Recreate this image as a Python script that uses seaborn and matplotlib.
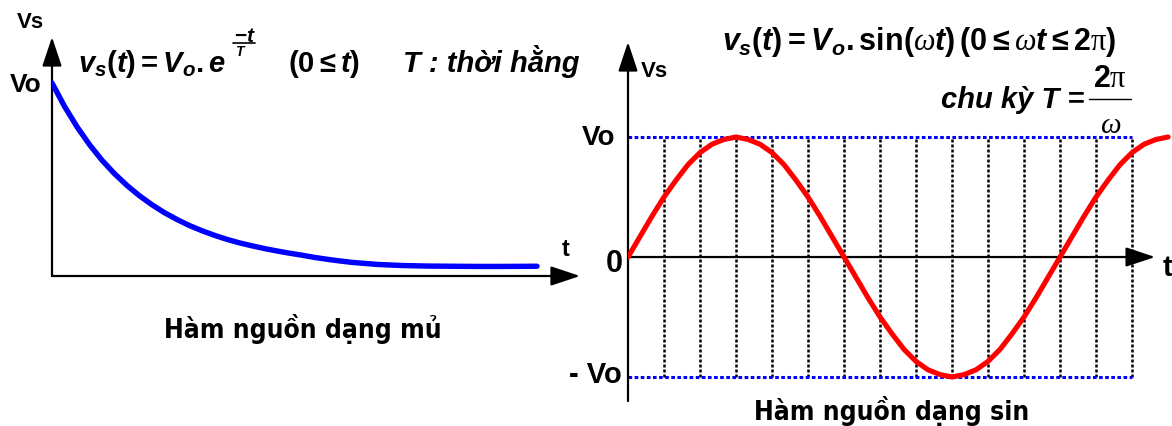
import matplotlib
matplotlib.use("Agg")
import matplotlib.pyplot as plt
from matplotlib.lines import Line2D
import seaborn as sns

# Exponential source: time (arbitrary units) and voltage normalised to Vo
decay_t = [0.0, 0.25, 0.5, 0.75, 1.0, 1.25, 1.5, 1.75, 2.0, 2.25, 2.5,
           2.75, 3.0, 3.25, 3.5, 3.75, 4.0, 4.25, 4.5, 4.75, 5.0, 5.25,
           5.5, 5.75, 6.0, 6.5, 7.0, 7.5, 8.0, 8.5, 9.0, 9.7]
decay_v = [1.00, 0.873, 0.762, 0.665, 0.58, 0.507, 0.443, 0.387, 0.338,
           0.295, 0.258, 0.225, 0.197, 0.172, 0.15, 0.131, 0.115, 0.10,
           0.087, 0.075, 0.064, 0.052, 0.042, 0.033, 0.025, 0.014, 0.008,
           0.005, 0.004, 0.003, 0.003, 0.004]

# Sinusoidal source: phase (degrees) and voltage normalised to Vo
phase_deg = [0, 10, 20, 30, 40, 50, 60, 70, 80, 90, 100, 110, 120, 130,
             140, 150, 160, 170, 180, 190, 200, 210, 220, 230, 240, 250,
             260, 270, 280, 290, 300, 310, 320, 330, 340, 350, 360, 370,
             380, 390, 400, 410, 420, 430, 440, 450]
sine_v = [0.00, 0.17, 0.34, 0.50, 0.64, 0.77, 0.87, 0.94, 0.98, 1.00,
          0.98, 0.94, 0.87, 0.77, 0.64, 0.50, 0.34, 0.17, 0.00, -0.17,
          -0.34, -0.50, -0.64, -0.77, -0.87, -0.94, -0.98, -1.00, -0.98,
          -0.94, -0.87, -0.77, -0.64, -0.50, -0.34, -0.17, 0.00, 0.17,
          0.34, 0.50, 0.64, 0.77, 0.87, 0.94, 0.98, 1.00]

# Phase grid (degrees)
grid_phase = [30, 60, 90, 120, 150, 180, 210, 240, 270, 300, 330, 360, 390, 420]

sns.set_style("white")
plt.rcParams["font.family"] = ["Liberation Sans", "DejaVu Sans"]
plt.rcParams["mathtext.fontset"] = "custom"
plt.rcParams["mathtext.it"] = "Liberation Sans:bold:italic"
plt.rcParams["mathtext.rm"] = "Liberation Sans:bold"
plt.rcParams["mathtext.bf"] = "Liberation Sans:bold"
plt.rcParams["mathtext.sf"] = "Liberation Serif:italic"
plt.rcParams["mathtext.tt"] = "Liberation Serif"
plt.rcParams["mathtext.fallback"] = "stixsans"

W, H = 1172, 427
fig = plt.figure(figsize=(W / 100, H / 100), dpi=100)
fig.patch.set_facecolor("white")


def fx(x):
    return x / W


def fy(y):
    return 1 - y / H


def ftext(x, y, s, size, ha="left", va="baseline", **kw):
    kw.setdefault("weight", "bold")
    fig.text(fx(x), fy(y), s, fontsize=size, ha=ha, va=va, color="black", **kw)


def frac_bar(x0, x1, y, lw=1.0):
    fig.add_artist(Line2D([fx(x0), fx(x1)], [fy(y), fy(y)],
                          color="black", linewidth=lw))


ARROW = dict(arrowstyle="-|>,head_length=0.9,head_width=0.3", mutation_scale=20,
             lw=1.6, color="black", shrinkA=0, shrinkB=0)
TITLE = dict(family="DejaVu Sans", stretch="condensed")

# ---------------- exponential panel ----------------
ax1 = fig.add_axes([fx(52), fy(277), fx(580) - fx(52), fy(38) - fy(277)])
x1max, y1min, y1max = 10.56, -0.049, 1.25
ax1.set_xlim(0, x1max)
ax1.set_ylim(y1min, y1max)
ax1.axis("off")
ax1.annotate("", xy=(0, y1max), xytext=(0, y1min), arrowprops=ARROW,
             annotation_clip=False)
ax1.annotate("", xy=(x1max, y1min), xytext=(0, y1min), arrowprops=ARROW,
             annotation_clip=False)
sns.lineplot(x=decay_t, y=decay_v, ax=ax1, color="#0000FF", linewidth=3.9,
             solid_capstyle="round", solid_joinstyle="round", zorder=3)

ftext(17, 28, "Vs", 16)
ftext(10, 92, "Vo", 19)
ftext(562, 256, "t", 17)

ftext(78, 72, r"$v_s(t) = V_o.e$", 21)
ftext(245, 42, r"$-t$", 15, ha="center")
frac_bar(233, 255, 44, lw=1.2)
ftext(241, 56, r"$T$", 10, ha="center")
ftext(288, 72, r"$(0 \leq t)$", 21)
ftext(403, 72, "T : thời hằng", 21, style="italic")
ftext(303, 338, "Hàm nguồn dạng mủ", 19, ha="center", **TITLE)

# ---------------- sinusoidal panel ----------------
ax2 = fig.add_axes([fx(628), fy(402), fx(1172) - fx(628), fy(43) - fy(402)])
x2max, y2min, y2max = 453.3, -1.2, 1.792
ax2.set_xlim(0, x2max)
ax2.set_ylim(y2min, y2max)
ax2.axis("off")

amp = max(sine_v)
ax2.vlines(grid_phase, -amp, amp, colors="black", linestyles=(0, (1.2, 0.8)),
           linewidth=1.8, zorder=1)
ax2.hlines([amp, -amp], 0, grid_phase[-1], colors="#0000FF",
           linestyles=(0, (1.2, 0.8)), linewidth=2.2, zorder=1)
ax2.annotate("", xy=(0, y2max), xytext=(0, y2min), arrowprops=ARROW,
             annotation_clip=False)
ax2.annotate("", xy=(439.2, 0), xytext=(0, 0), arrowprops=ARROW,
             annotation_clip=False)
sns.lineplot(x=phase_deg, y=sine_v, ax=ax2, color="#FF0000", linewidth=3.7,
             solid_capstyle="round", solid_joinstyle="round", zorder=3)

ftext(641, 77, "Vs", 16)
ftext(615, 145, "Vo", 20, ha="right")
ftext(623, 272, "0", 22, ha="right")
ftext(622, 383, "- Vo", 21, ha="right")
ftext(1163, 276, "t", 21)

ftext(722, 50, r"$v_s(t) = V_o.\mathrm{sin}(\mathsf{\omega} t)\,"
               r"(0 \leq \mathsf{\omega} t \leq 2\mathtt{\pi})$", 22)
ftext(1084, 108, "chu kỳ T =", 21, ha="right", style="italic")
ftext(1110, 79, r"$2\mathtt{\pi}$", 22, ha="center", va="center")
frac_bar(1089, 1131, 100)
ftext(1111, 125, r"$\mathsf{\omega}$", 21, ha="center", va="center")
ftext(892, 420, "Hàm nguồn dạng sin", 19, ha="center", **TITLE)

fig.savefig("out.png", dpi=100, facecolor="white")
